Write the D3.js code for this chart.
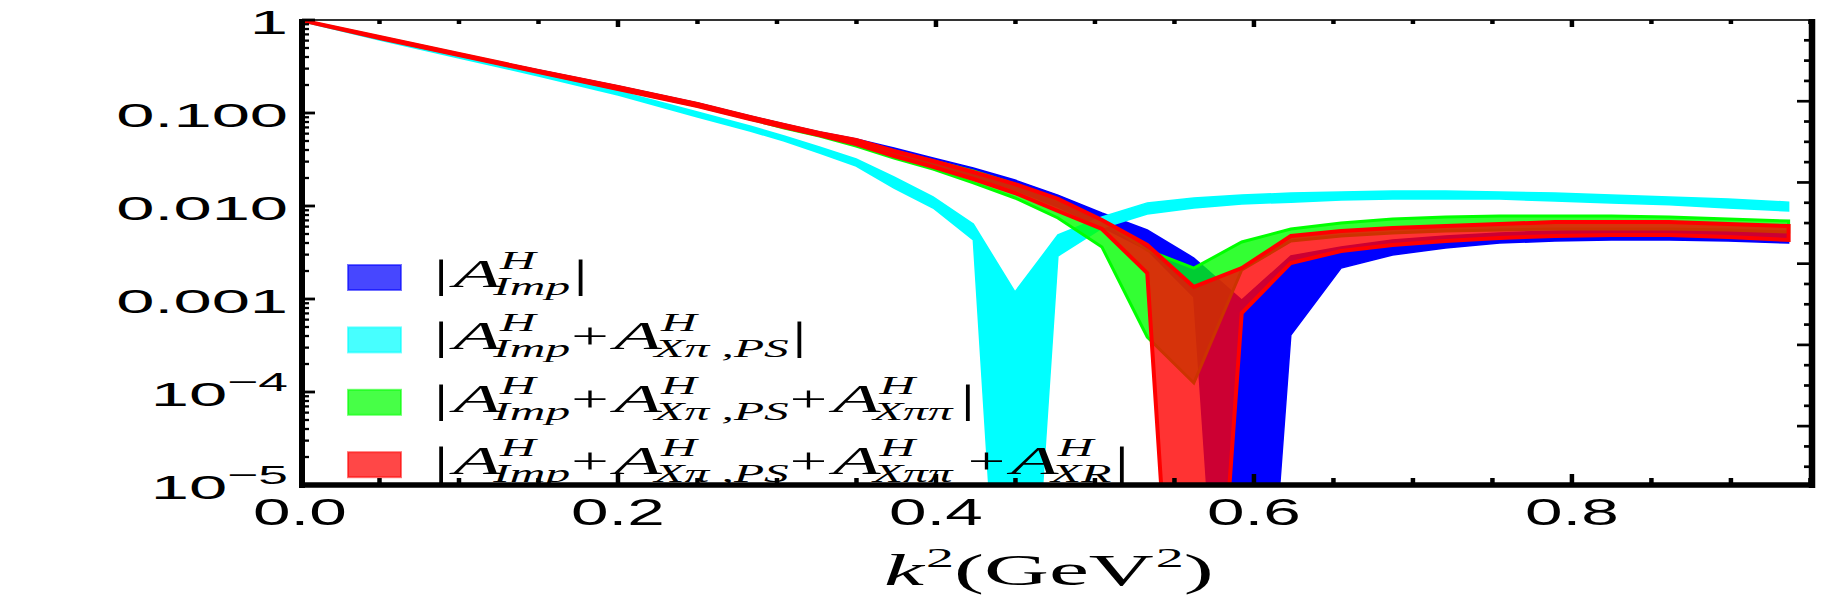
<!DOCTYPE html>
<html><head><meta charset="utf-8">
<script src="https://cdn.jsdelivr.net/npm/d3@7"></script>
<style>body{margin:0;background:#fff}</style>
</head><body>
<svg id="chart" width="1827" height="599"></svg>
<script>
// k^2 (GeV^2) sample points
const k2 = [0, 0.05, 0.10, 0.15, 0.20, 0.25, 0.283, 0.3045, 0.3267, 0.3498, 0.3736, 0.3982, 0.4235, 0.4497, 0.4767, 0.5044, 0.5329, 0.5622, 0.5923, 0.6232, 0.6548, 0.6872, 0.7205, 0.7545, 0.7893, 0.8248, 0.8612, 0.8983, 0.9363];

// |A_Imp|
const blueHi = [1, 0.657, 0.431, 0.290, 0.195, 0.128, 0.0928, 0.0762, 0.0625, 0.0525, 0.0420, 0.0328, 0.0256, 0.0190, 0.0131, 0.00841, 0.00552, 0.00276, 0.000976, 0.00290, 0.00362, 0.00431, 0.00476, 0.00513, 0.00538, 0.00552, 0.00552, 0.00538, 0.00513];
const blueLo = [1, 0.640, 0.420, 0.276, 0.181, 0.119, 0.0862, 0.0707, 0.0580, 0.0453, 0.0354, 0.0276, 0.0205, 0.0149, 0.00976, 0.00594, 0.00336, 0.00105, 2.9e-11, 0.000410, 0.00215, 0.00297, 0.00354, 0.00400, 0.00420, 0.00431, 0.00431, 0.00420, 0.00400];
// |A_Imp + A_Xpi,PS|
const cyanHi = [1, 0.657, 0.431, 0.276, 0.172, 0.1025, 0.0725, 0.0566, 0.0431, 0.0320, 0.0205, 0.0125, 0.00640, 0.00119, 0.00488, 0.00762, 0.0108, 0.0122, 0.0131, 0.0138, 0.0141, 0.0145, 0.0145, 0.0141, 0.0138, 0.0131, 0.0125, 0.0119, 0.0110];
const cyanLo = [0.976, 0.609, 0.390, 0.250, 0.156, 0.0906, 0.0640, 0.0500, 0.0372, 0.0269, 0.0156, 0.00952, 0.00431, 3.4e-10, 0.00290, 0.00580, 0.00820, 0.00952, 0.0105, 0.0110, 0.0116, 0.0119, 0.0119, 0.0119, 0.0113, 0.0108, 0.0103, 0.00952, 0.00884];
// |A_Imp + A_Xpi,PS + A_Xpipi|
const greenHi = [1, 0.657, 0.431, 0.283, 0.190, 0.125, 0.0906, 0.0743, 0.0610, 0.0500, 0.0390, 0.0305, 0.0238, 0.0172, 0.0116, 0.00707, 0.00336, 0.00215, 0.00410, 0.00566, 0.00657, 0.00725, 0.00762, 0.00781, 0.00781, 0.00781, 0.00762, 0.00725, 0.00690];
const greenLo = [1, 0.640, 0.420, 0.276, 0.181, 0.119, 0.0862, 0.0690, 0.0566, 0.0442, 0.0328, 0.0250, 0.0177, 0.0122, 0.00743, 0.00362, 0.000390, 0.000125, 0.00205, 0.00420, 0.00476, 0.00513, 0.00538, 0.00552, 0.00566, 0.00566, 0.00566, 0.00552, 0.00525];
// |A_Imp + A_Xpi,PS + A_Xpipi + A_XR|
const redHi = [1, 0.657, 0.431, 0.283, 0.190, 0.125, 0.0906, 0.0743, 0.0610, 0.0513, 0.0390, 0.0305, 0.0232, 0.0172, 0.0119, 0.00707, 0.00381, 0.00135, 0.00215, 0.00476, 0.00538, 0.00580, 0.00609, 0.00640, 0.00673, 0.00673, 0.00673, 0.00640, 0.00609];
const redLo = [1, 0.640, 0.420, 0.276, 0.181, 0.119, 0.0862, 0.0707, 0.0580, 0.0464, 0.0345, 0.0263, 0.0195, 0.0138, 0.00884, 0.00566, 0.00190, 4.2e-11, 0.000707, 0.00244, 0.00328, 0.00381, 0.00420, 0.00453, 0.00476, 0.00488, 0.00488, 0.00464, 0.00431];

const xTicks = [0, 0.2, 0.4, 0.6, 0.8];
const xTickLabels = ["0.0", "0.2", "0.4", "0.6", "0.8"];
const yTicks = [1, 0.1, 0.01, 0.001, 1e-4, 1e-5];
const yTickLabels = [["1", ""], ["0.100", ""], ["0.010", ""], ["0.001", ""], ["10", "\u22124"], ["10", "\u22125"]];

const legendSubs = [["Imp"], ["Imp", "X\u03c0 ,PS"], ["Imp", "X\u03c0 ,PS", "X\u03c0\u03c0"], ["Imp", "X\u03c0 ,PS", "X\u03c0\u03c0", "XR"]];
const colors = ["#0000ff", "#00ffff", "#00ff00", "#ff0000"];

const svg = d3.select("#chart");
const L = 300, R = 1812, T = 20, B = 485;
const x = d3.scaleLinear().domain([0, 0.951]).range([L, R]);
const y = d3.scaleLog().domain([1e-5, 1]).range([B, T]);

svg.append("defs").append("clipPath").attr("id", "clip")
  .append("rect").attr("x", L).attr("y", T).attr("width", R - L).attr("height", B - T);

const bands = [
  {hi: blueHi, lo: blueLo, c: colors[0], fo: 1, sw: 1.5},
  {hi: cyanHi, lo: cyanLo, c: colors[1], fo: 1, sw: 1.5},
  {hi: greenHi, lo: greenLo, c: colors[2], fo: 0.8, sw: 3},
  {hi: redHi, lo: redLo, c: colors[3], fo: 0.8, sw: 4}
];
const area = d3.area().x(d => x(d[0])).y0(d => y(d[1])).y1(d => y(d[2]));
const plot = svg.append("g").attr("clip-path", "url(#clip)");
bands.forEach(b => {
  plot.append("path")
    .attr("d", area(d3.zip(k2, b.lo, b.hi)) + "Z")
    .attr("fill", b.c).attr("fill-opacity", b.fo)
    .attr("stroke", b.c).attr("stroke-width", b.sw).attr("stroke-linejoin", "miter");
});

// frame
const fr = svg.append("g").attr("stroke", "#000");
fr.append("line").attr("x1", L).attr("x2", R + 3).attr("y1", T).attr("y2", T).attr("stroke-width", 2).attr("stroke", "#333");
fr.append("line").attr("x1", L + 2).attr("x2", L + 2).attr("y1", T - 1).attr("y2", B + 3).attr("stroke-width", 6);
fr.append("line").attr("x1", L - 1).attr("x2", R + 3).attr("y1", B).attr("y2", B).attr("stroke-width", 5.5);
fr.append("line").attr("x1", R).attr("x2", R).attr("y1", T - 1).attr("y2", B + 3).attr("stroke-width", 6.5);

// x ticks (bottom & top)
const xMinor = d3.range(0, 0.951, 0.05);
xMinor.forEach(v => {
  const major = Math.abs(v / 0.2 - Math.round(v / 0.2)) < 1e-6;
  const px = x(v);
  if (px < L + 4) return;
  fr.append("line").attr("x1", px).attr("x2", px).attr("y1", B).attr("y2", B - (major ? 11 : 7)).attr("stroke-width", 4.5);
  fr.append("line").attr("x1", px).attr("x2", px).attr("y1", T).attr("y2", T + (major ? 7 : 4)).attr("stroke-width", 4.5);
});
// left log ticks
for (let e = -5; e <= 0; e++) {
  for (let m = 1; m <= 9; m++) {
    const v = m * Math.pow(10, e);
    if (v > 1.0001) continue;
    const py = y(v);
    fr.append("line").attr("x1", L + 2).attr("x2", L + (m === 1 ? 15 : 9)).attr("y1", py).attr("y2", py).attr("stroke-width", m === 1 ? 2.8 : 2.3);
  }
}
// right frame ticks (linear)
const yR = d3.scaleLinear().domain([0, 22.9]).range([T, B]);
d3.range(1, 23).forEach(n => {
  const py = yR(n);
  fr.append("line").attr("x1", R).attr("x2", R - (n % 4 === 0 ? 15 : 8)).attr("y1", py).attr("y2", py).attr("stroke-width", 2.7);
});

// y tick labels
yTicks.forEach((v, i) => {
  const g = svg.append("g").attr("transform", `translate(288,${y(v) + 14}) scale(2.05,1)`);
  const t = g.append("text").attr("text-anchor", "end").attr("font-family", "Liberation Sans, Arial, sans-serif").attr("font-size", 33.5).attr("fill", "#000");
  t.append("tspan").text(yTickLabels[i][0]);
  if (yTickLabels[i][1]) t.append("tspan").attr("font-size", 26).attr("dy", -15).text(yTickLabels[i][1]);
});
// x tick labels
xTicks.forEach((v, i) => {
  svg.append("g").attr("transform", `translate(${x(v)},525) scale(1.8,1)`)
    .append("text").attr("text-anchor", "middle").attr("font-family", "Liberation Sans, Arial, sans-serif").attr("font-size", 37.5).text(xTickLabels[i]);
});
// axis title
{
  const t = svg.append("g").attr("transform", "translate(884,585) scale(2.0,1)")
    .append("text").attr("font-family", "Liberation Serif, Times New Roman, serif").attr("font-size", 45);
  t.append("tspan").attr("font-style", "italic").text("k");
  t.append("tspan").attr("font-size", 28).attr("dy", -18).attr("dx", 1).text("2");
  t.append("tspan").attr("dy", 18).text("(GeV");
  t.append("tspan").attr("font-size", 28).attr("dy", -18).attr("dx", 1).text("2");
  t.append("tspan").attr("dy", 18).text(")");
}

// legend
const LSX = 1.9;
legendSubs.forEach((subs, i) => {
  const cy = 277.5 + i * 62.4;
  svg.append("rect").attr("x", 348).attr("y", cy - 12.5).attr("width", 53).attr("height", 25)
    .attr("fill", colors[i]).attr("fill-opacity", 0.72).attr("stroke", colors[i]).attr("stroke-opacity", 0.55).attr("stroke-width", 2);
  const g = svg.append("g").attr("transform", `translate(442,${cy + 9.5}) scale(${LSX},1)`)
    .attr("font-family", "Liberation Serif, Times New Roman, serif").attr("fill", "#000");
  const put = (txt, px, py, size, italic) => {
    const t = g.append("text").attr("x", px).attr("y", py).attr("font-size", size)
      .attr("font-style", italic ? "italic" : "normal").text(txt);
    return t.node().getComputedTextLength();
  };
  put("|", -4.5, 0, 40, false);
  let cx = 6;
  subs.forEach((s, j) => {
    if (j > 0) {
      cx += (subs[j - 1] === "X\u03c0\u03c0" ? 8 : 0.5);
      cx += put("+", cx, -1, 35, false) + 3;
    }
    const wA = put("A", cx, 0, 41, true);
    const wH = put("H", cx + wA - 0.5, -18, 26, true);
    const wS = put(s, cx + wA - 4, 8, 26, true);
    cx += wA + Math.max(wH - 0.5, wS - 4);
  });
  put("|", cx + (subs[subs.length - 1] === "X\u03c0\u03c0" ? 4 : 1.5), 0, 40, false);
});
</script>
</body></html>
